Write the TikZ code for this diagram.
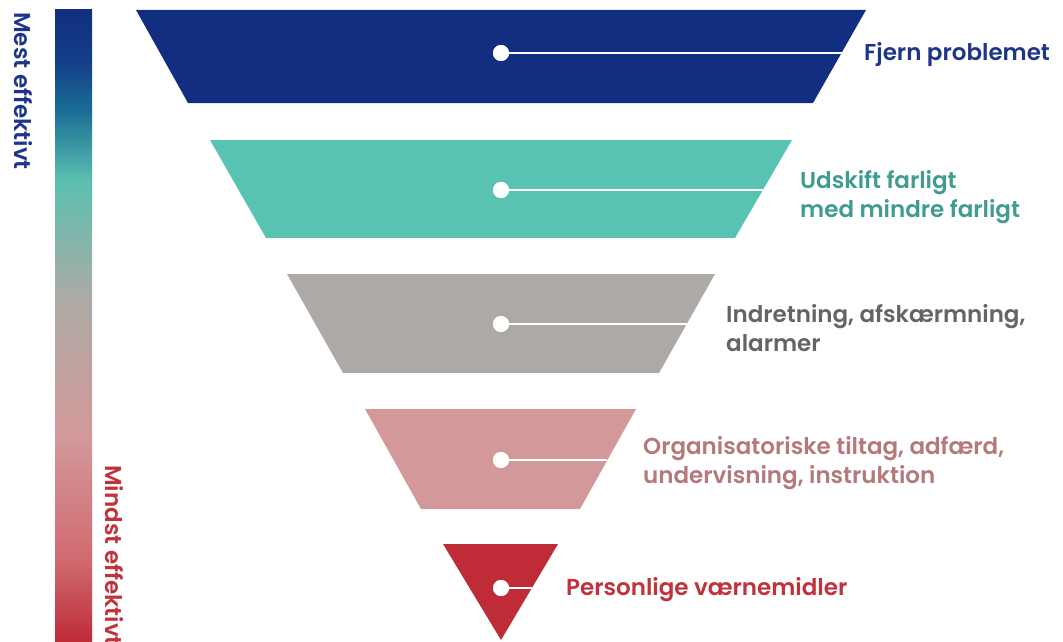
\documentclass[tikz,border=0pt]{standalone}
\usepackage{fontspec}
\setmainfont{Poppins}[UprightFont=* SemiBold]
\definecolor{cnavy}{HTML}{112E80}
\definecolor{cteal}{HTML}{58C2B3}
\definecolor{cgray}{HTML}{ADAAA5}
\definecolor{cpink}{HTML}{D39899}
\definecolor{cred}{HTML}{BF2B36}
\definecolor{tnavy}{HTML}{1F358A}
\definecolor{tteal}{HTML}{3F9C8E}
\definecolor{tgray}{HTML}{666462}
\definecolor{tpink}{HTML}{B3797B}
\definecolor{tred}{HTML}{C0323C}
\definecolor{gA}{HTML}{D06A70}
\definecolor{gB}{HTML}{5BC0B0}
\definecolor{gC}{HTML}{1A6E95}
\definecolor{gD}{HTML}{143E88}
\pgfdeclareverticalshading{effbar}{100bp}{%
  color(0bp)=(cred);
  color(25bp)=(cred);
  color(31.5bp)=(gA);
  color(41bp)=(cpink);
  color(52bp)=(cgray);
  color(61.5bp)=(gB);
  color(67bp)=(gC);
  color(71bp)=(gD);
  color(75bp)=(cnavy);
  color(100bp)=(cnavy)}
\begin{document}
\begin{tikzpicture}[x=1pt,y=-1pt,
  dot/.style={circle,fill=white,inner sep=0pt,minimum size=16pt},
  lead/.style={white,line width=1.5pt},
  lbl/.style={anchor=west,align=left,inner sep=0pt,font=\fontsize{23}{29.5}\selectfont},
  side/.style={inner sep=0pt,font=\fontsize{23}{26}\selectfont,rotate=-90,anchor=west}]
\useasboundingbox (0,0) rectangle (1063,642);
% gradient bar
\shade[shading=effbar] (55,10) rectangle (92,642);
\node[side,text=tnavy] (mest) at (23,12) {Mest effektivt};
\node[side,text=tred] (mindst) at (114,465) {Mindst effektivt};
% funnel
\fill[cnavy] (136,10) -- (866,10) -- (813,103) -- (188,103) -- cycle;
\fill[cteal] (210,140) -- (792,140) -- (735,238) -- (266,238) -- cycle;
\fill[cgray] (287,274) -- (715,274) -- (659,373) -- (343,373) -- cycle;
\fill[cpink] (365,409) -- (636,409) -- (580,509) -- (421,509) -- cycle;
\fill[cred] (443,544) -- (558,544) -- (501,640) -- cycle;
% edges
\coordinate (e1) at (841.5,53);
\coordinate (e2) at (763,190);
\coordinate (e3) at (687,324);
\coordinate (e4) at (607.4,460);
\coordinate (e5) at (532,588);
\foreach \i/\y in {1/53,2/190,3/324,4/460,5/588}{
  \node[dot] (d\i) at (501,\y) {};
  \draw[lead] (d\i.center) -- (e\i);
  \node[dot] at (501,\y) {};
}
\node[lbl,text=tnavy] (t1) at (864,55) {Fjern problemet};
\node[lbl,text=tteal] (t2) at (800,197) {Udskift farligt\\med mindre farligt};
\node[lbl,text=tgray] (t3) at (726,328) {Indretning, afskærmning,\\alarmer};
\node[lbl,text=tpink] (t4) at (643,463) {Organisatoriske tiltag, adfærd,\\undervisning, instruktion};
\node[lbl,text=tred] (t5) at (566,590) {Personlige værnemidler};
\end{tikzpicture}
\end{document}
